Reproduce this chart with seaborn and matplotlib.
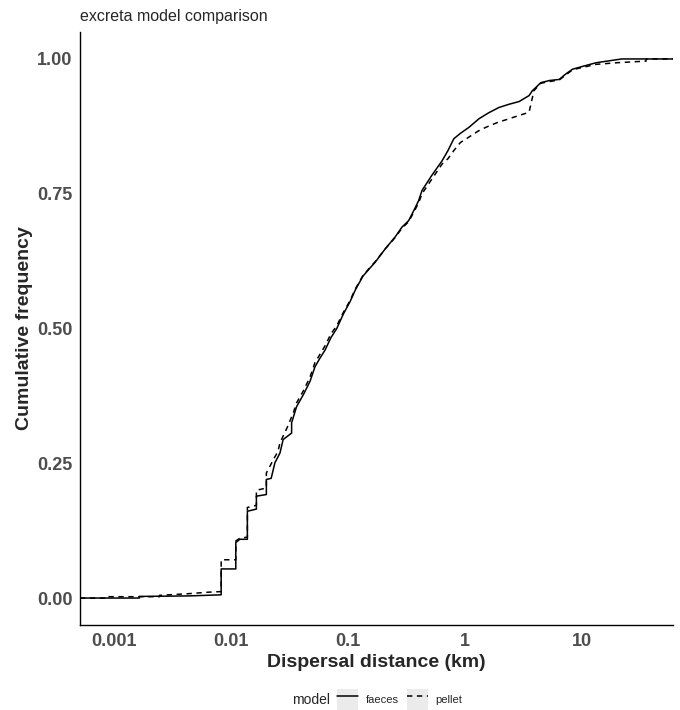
import numpy as np
import pandas as pd
import seaborn as sns
import matplotlib
matplotlib.use('Agg')
import matplotlib.pyplot as plt
from matplotlib.patches import Rectangle
from matplotlib.lines import Line2D
from matplotlib.legend_handler import HandlerTuple

# ECDF vertices (distance in km, cumulative frequency);
# a repeated distance is a vertical jump
faeces_km = [0.00166, 0.00166, 0.0045, 0.0083, 0.0083, 0.01107, 0.01107, 0.0120, 0.0139,
             0.0139, 0.0166, 0.0166, 0.0202, 0.0202, 0.0222, 0.0239, 0.0264, 0.0281,
             0.0332, 0.0332, 0.0366, 0.042, 0.0477, 0.0526, 0.058, 0.0641, 0.072,
             0.0807, 0.092, 0.105, 0.116, 0.135, 0.155, 0.172, 0.21, 0.255, 0.291,
             0.332, 0.37, 0.404, 0.432, 0.52, 0.641, 0.72, 0.808, 0.92, 1.086, 1.324,
             1.6, 1.965, 2.4, 2.92, 3.55, 3.79, 4.48, 5.3, 6.43, 7.3, 8.36, 10.5,
             13.3, 22.0]
faeces_cum = [0.0, 0.003, 0.004, 0.006, 0.054, 0.054, 0.103, 0.109, 0.109,
              0.161, 0.165, 0.189, 0.192, 0.220, 0.222, 0.251, 0.269, 0.294,
              0.306, 0.325, 0.355, 0.378, 0.402, 0.429, 0.445, 0.460, 0.483,
              0.500, 0.527, 0.550, 0.571, 0.597, 0.612, 0.623, 0.648, 0.670, 0.688,
              0.700, 0.720, 0.737, 0.756, 0.783, 0.811, 0.830, 0.852, 0.862, 0.873, 0.889,
              0.900, 0.910, 0.916, 0.921, 0.932, 0.941, 0.956, 0.960, 0.962, 0.972, 0.981, 0.987,
              0.993, 1.0]

pellet_km = [0.000877, 0.000877, 0.00247, 0.00247, 0.0043, 0.0066, 0.0083, 0.0083, 0.01107,
             0.01107, 0.0120, 0.0139, 0.0139, 0.0166, 0.0166, 0.0202, 0.0202, 0.0239,
             0.0254, 0.0264, 0.0310, 0.0345, 0.0366, 0.042, 0.0477, 0.0526, 0.058,
             0.0641, 0.072, 0.0807, 0.092, 0.105, 0.116, 0.135, 0.155, 0.172, 0.21,
             0.255, 0.291, 0.332, 0.37, 0.404, 0.432, 0.52, 0.641, 0.72, 0.808, 0.92,
             1.086, 1.3, 1.51, 1.9, 2.39, 2.9, 3.55, 3.79, 3.9, 4.48, 5.3, 6.43, 7.3,
             8.36, 10.5, 13.3, 20.0, 35.5, 35.5]
pellet_cum = [0.0, 0.0025, 0.0025, 0.005, 0.008, 0.011, 0.012, 0.071, 0.071,
              0.106, 0.111, 0.113, 0.168, 0.172, 0.200, 0.204, 0.232, 0.262,
              0.272, 0.288, 0.320, 0.345, 0.362, 0.385, 0.410, 0.437, 0.452,
              0.468, 0.490, 0.505, 0.530, 0.552, 0.573, 0.598, 0.613, 0.624, 0.648,
              0.669, 0.686, 0.698, 0.717, 0.733, 0.750, 0.776, 0.805, 0.815, 0.830, 0.845,
              0.855, 0.866, 0.873, 0.882, 0.889, 0.895, 0.901, 0.928, 0.941, 0.955, 0.958,
              0.961, 0.970, 0.980, 0.985, 0.990, 0.993, 0.996, 1.0]

x_ticks = [0.001, 0.01, 0.1, 1, 10]
x_labels = ['0.001', '0.01', '0.1', '1', '10']
y_ticks = [0, 0.25, 0.5, 0.75, 1.0]
y_labels = ['0.00', '0.25', '0.50', '0.75', '1.00']

sns.set_style('white')
plt.rcParams['font.family'] = ['Liberation Sans', 'DejaVu Sans']

# x range with 5% padding in log space, like ggplot
lo = min(min(faeces_km), min(pellet_km))
hi = max(max(faeces_km), max(pellet_km))
span = np.log10(hi) - np.log10(lo)
xmin = 10 ** (np.log10(lo) - 0.05 * span)
xmax = 10 ** (np.log10(hi) + 0.05 * span)

frames = []
for name, km, cum in [('faeces', faeces_km, faeces_cum), ('pellet', pellet_km, pellet_cum)]:
    frames.append(pd.DataFrame({'km': [xmin] + km + [xmax],
                                'cum': [0.0] + cum + [cum[-1]],
                                'model': name}))
df = pd.concat(frames, ignore_index=True)

fig = plt.figure(figsize=(6.8, 7.1), dpi=100)
ax = fig.add_axes([80 / 680, 1 - 625 / 710, 593 / 680, 593 / 710])

sns.lineplot(data=df, x='km', y='cum', style='model', color='black',
             dashes={'faeces': '', 'pellet': (3.5, 3)},
             estimator=None, sort=False, legend=False, linewidth=1.1, ax=ax)

ax.set_xscale('log')
ax.minorticks_off()
ax.set_xlim(xmin, xmax)
ax.set_ylim(-0.05, 1.05)
ax.set_xticks(x_ticks, labels=x_labels)
ax.set_yticks(y_ticks, labels=y_labels)
ax.tick_params(length=3.5, width=0.9, color='#333333', labelcolor='#4D4D4D',
               labelsize=13, pad=2)
for lab in ax.get_xticklabels() + ax.get_yticklabels():
    lab.set_fontweight('bold')

for s in ['top', 'right']:
    ax.spines[s].set_visible(False)
for s in ['left', 'bottom']:
    ax.spines[s].set_color('black')
    ax.spines[s].set_linewidth(1.0)

ax.set_xlabel('Dispersal distance (km)', fontsize=14, fontweight='bold', labelpad=3)
ax.set_ylabel('Cumulative frequency', fontsize=14, fontweight='bold', labelpad=3)
ax.set_title('excreta model comparison', loc='left', fontsize=11.5, pad=8)

# legend along the bottom, title on the left
key_fc = '#EBEBEB'
handles = [
    (Rectangle((0, 0), 1, 1, fc=key_fc, ec='none'), Line2D([], [], color='black', lw=1.1)),
    (Rectangle((0, 0), 1, 1, fc=key_fc, ec='none'),
     Line2D([], [], color='black', lw=1.1, dashes=(3.5, 3))),
]
fig.legend(handles, ['faeces', 'pellet'], handler_map={tuple: HandlerTuple(ndivide=1, pad=0)},
           ncol=2, loc='center left', bbox_to_anchor=(337 / 680, 1 - 700 / 710),
           frameon=False, fontsize=8, handlelength=1.9, handleheight=2.55,
           handletextpad=0.7, columnspacing=0.7, borderpad=0, borderaxespad=0)
fig.text(330 / 680, 1 - 700 / 710, 'model', ha='right', va='center', fontsize=10)

fig.savefig('out.png', dpi=100)
